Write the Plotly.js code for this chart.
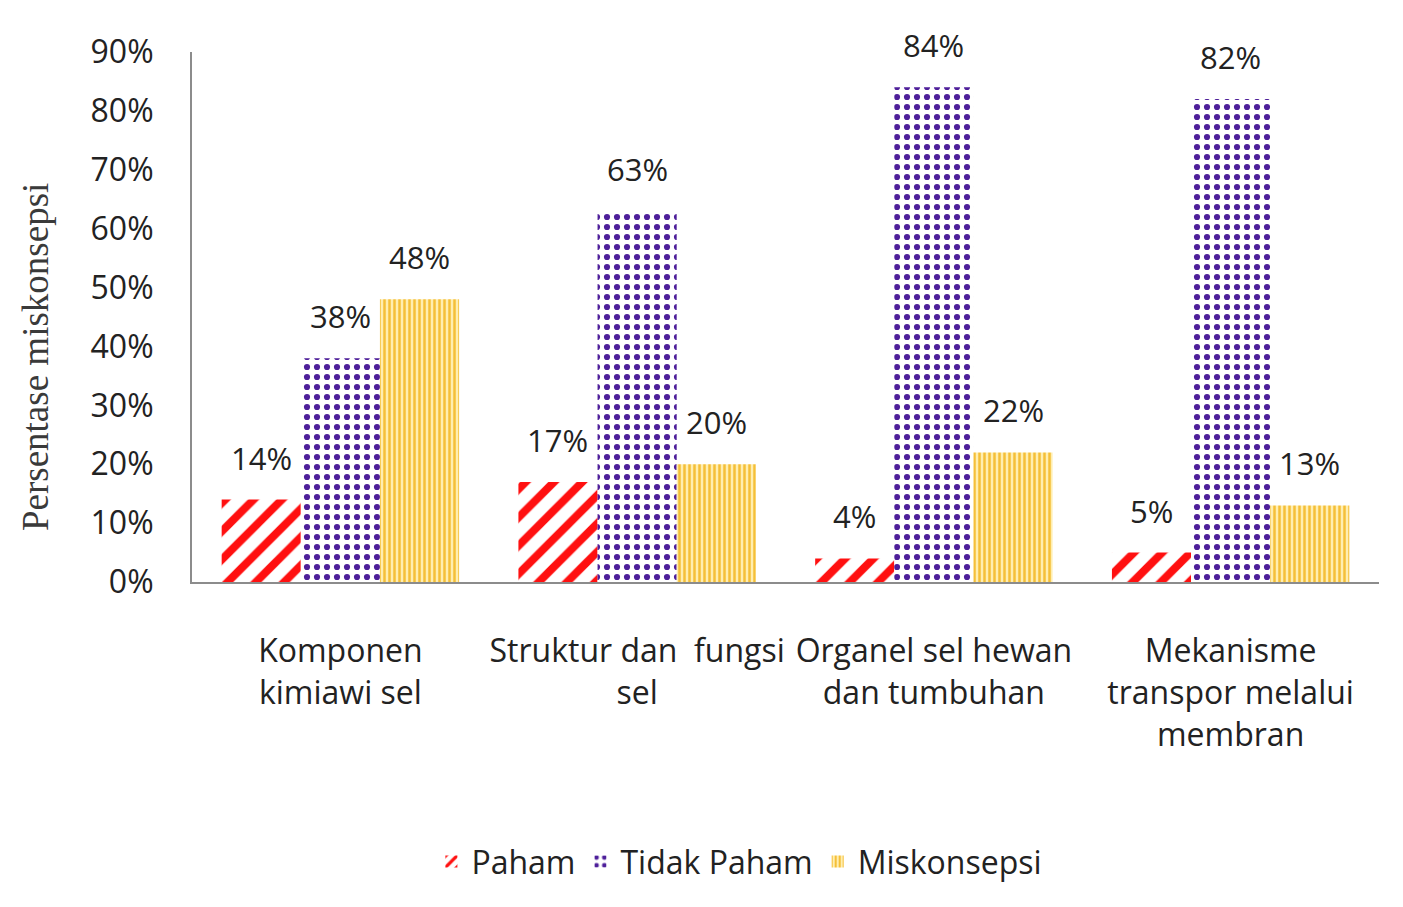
<!DOCTYPE html>
<html>
<head>
<meta charset="utf-8">
<script src="https://cdn.plot.ly/plotly-3.0.1.min.js"></script>
<style>html,body{margin:0;padding:0;background:#fff;}#chart{width:1403px;height:907px;}</style>
</head>
<body>
<div id="chart"></div>
<script>
const categories = [
  "Komponen<br>kimiawi sel",
  "Struktur dan  fungsi<br>sel",
  "Organel sel hewan<br>dan tumbuhan",
  "Mekanisme<br>transpor melalui<br>membran"
];
const seriesNames = ["Paham", "Tidak Paham", "Miskonsepsi"];
const paham = [14, 17, 4, 5];
const tidakPaham = [38, 63, 84, 82];
const miskonsepsi = [48, 20, 22, 13];
const yTickValues = [0, 10, 20, 30, 40, 50, 60, 70, 80, 90];
const yTickLabels = ["0%", "10%", "20%", "30%", "40%", "50%", "60%", "70%", "80%", "90%"];
const yTitle = "Persentase miskonsepsi";

const seriesValues = [paham, tidakPaham, miskonsepsi];
const styles = [
  {shape: "/", fg: "#ff1010", bg: "#ffffff", size: 20, solidity: 0.4},
  {shape: ".", fg: "#4e1f9a", bg: "#ffffff", size: 10, solidity: 0.3},
  {shape: "|", fg: "#f5bf38", bg: "#ffeeb0", size: 5, solidity: 0.5}
];
const font = "Open Sans, Lato, sans-serif";
const textColor = "#222222";
const bargap = 0.2;

const traces = seriesValues.map((vals, k) => ({
  type: "bar",
  name: seriesNames[k],
  x: categories,
  y: vals,
  marker: {
    color: styles[k].fg,
    line: {width: 0},
    pattern: {shape: styles[k].shape, fgcolor: styles[k].fg, bgcolor: styles[k].bg,
              size: styles[k].size, solidity: styles[k].solidity, fillmode: "replace", fgopacity: 1}
  },
  hoverinfo: "x+y+name"
}));

const w = (1 - bargap) / 3;
const annotations = [];
seriesValues.forEach((vals, k) => {
  vals.forEach((v, i) => {
    annotations.push({
      x: i + (k - 1) * w, y: v, xref: "x", yref: "y",
      text: v + "%", showarrow: false, yanchor: "middle", yshift: 42,
      font: {family: font, size: 31, color: textColor}
    });
  });
});
annotations.push({
  x: -0.132, y: 0.425, xref: "paper", yref: "paper", xanchor: "center", yanchor: "middle",
  text: yTitle, textangle: -90, showarrow: false,
  font: {family: "Liberation Serif, Times New Roman, serif", size: 37, color: "#3a3a3a"}
});

const layout = {
  width: 1403, height: 907,
  margin: {l: 192, r: 24, t: 52, b: 325},
  paper_bgcolor: "#ffffff", plot_bgcolor: "#ffffff",
  barmode: "group", bargap: bargap, bargroupgap: 0,
  font: {family: font, size: 31, color: textColor},
  showlegend: true,
  legend: {
    orientation: "h", xref: "container", yref: "container",
    x: 0.527, xanchor: "center", y: 0.05, yanchor: "middle",
    font: {family: font, size: 32, color: textColor},
    itemwidth: 30, traceorder: "normal"
  },
  xaxis: {
    type: "category", showline: true, linecolor: "#8c8c8c", linewidth: 2,
    ticks: "", showgrid: false, zeroline: false, automargin: false,
    ticklabelstandoff: 40,
    tickfont: {family: font, size: 32, color: textColor}
  },
  yaxis: {
    range: [0, 90], tickvals: yTickValues, ticktext: yTickLabels,
    showline: true, linecolor: "#8c8c8c", linewidth: 2,
    ticks: "", showgrid: false, zeroline: false, automargin: false,
    ticklabelstandoff: 30,
    tickfont: {family: font, size: 32, color: textColor}
  },
  annotations: annotations
};

Plotly.newPlot("chart", traces, layout, {displayModeBar: false, responsive: false});
</script>
</body>
</html>
